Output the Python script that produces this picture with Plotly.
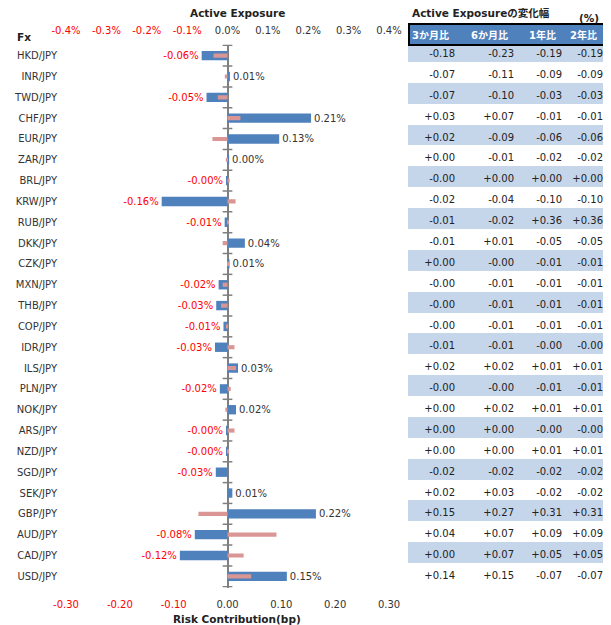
import plotly.graph_objects as go

# ---------------- data ----------------
currencies = ["HKD/JPY", "INR/JPY", "TWD/JPY", "CHF/JPY", "EUR/JPY", "ZAR/JPY", "BRL/JPY",
              "KRW/JPY", "RUB/JPY", "DKK/JPY", "CZK/JPY", "MXN/JPY", "THB/JPY", "COP/JPY",
              "IDR/JPY", "ILS/JPY", "PLN/JPY", "NOK/JPY", "ARS/JPY", "NZD/JPY", "SGD/JPY",
              "SEK/JPY", "GBP/JPY", "AUD/JPY", "CAD/JPY", "USD/JPY"]

# Active Exposure (%), top axis
active_exposure = [-0.064, 0.006, -0.052, 0.207, 0.128, 0.004, -0.002,
                   -0.163, -0.007, 0.043, 0.005, -0.022, -0.028, -0.010,
                   -0.031, 0.026, -0.019, 0.021, -0.003, -0.003, -0.029,
                   0.012, 0.219, -0.081, -0.118, 0.147]

# Risk Contribution (bp), bottom axis
risk_contribution = [-0.026, -0.005, -0.018, 0.024, -0.028, -0.003, 0.004,
                     0.015, 0.002, -0.009, 0.001, -0.009, -0.012, -0.003,
                     0.013, 0.016, 0.006, -0.004, 0.013, 0.003, 0.000,
                     0.000, -0.054, 0.091, 0.030, 0.044]

top_ticks = [-0.4, -0.3, -0.2, -0.1, 0.0, 0.1, 0.2, 0.3, 0.4]
bottom_ticks = [-0.30, -0.20, -0.10, 0.00, 0.10, 0.20, 0.30]

table_headers = ["3か月比", "6か月比", "1年比", "2年比"]
chg_3m = ["-0.18", "-0.07", "-0.07", "+0.03", "+0.02", "+0.00", "-0.00", "-0.02", "-0.01", "-0.01",
          "+0.00", "-0.00", "-0.00", "-0.00", "-0.01", "+0.02", "-0.00", "+0.00", "+0.00", "+0.00",
          "-0.02", "+0.02", "+0.15", "+0.04", "+0.00", "+0.14"]
chg_6m = ["-0.23", "-0.11", "-0.10", "+0.07", "-0.09", "-0.01", "+0.00", "-0.04", "-0.02", "+0.01",
          "-0.00", "-0.01", "-0.01", "-0.01", "-0.01", "+0.02", "-0.00", "+0.02", "+0.00", "+0.00",
          "-0.02", "+0.03", "+0.27", "+0.07", "+0.07", "+0.15"]
chg_1y = ["-0.19", "-0.09", "-0.03", "-0.01", "-0.06", "-0.02", "+0.00", "-0.10", "+0.36", "-0.05",
          "-0.01", "-0.01", "-0.01", "-0.01", "-0.00", "+0.01", "-0.01", "+0.01", "-0.00", "+0.01",
          "-0.02", "-0.02", "+0.31", "+0.09", "+0.05", "-0.07"]
chg_2y = ["-0.19", "-0.09", "-0.03", "-0.01", "-0.06", "-0.02", "+0.00", "-0.10", "+0.36", "-0.05",
          "-0.01", "-0.01", "-0.01", "-0.01", "-0.00", "+0.01", "-0.01", "+0.01", "-0.00", "+0.01",
          "-0.02", "-0.02", "+0.31", "+0.09", "+0.05", "-0.07"]

# ---------------- styling ----------------
BODY = 8                      # default page margin around the figure
W, H = 611 - BODY, 625 - BODY
FONT = "DejaVu Sans, Noto Sans CJK JP, sans-serif"
BLUE = "#4f81bd"
PINK = "#d99694"
RED = "#ff0000"
DARK = "#333333"
AXIS_GREY = "#7f7f7f"
BAND = "#c5d5ea"

# layout positions in screen pixels
plot_left, plot_right = 66, 389
plot_top, plot_bottom = 44.5, 587.5
table_left, table_right = 408, 611
table_rows_top = 46.5
header_top, header_bottom = 24, 45
row_h = (plot_bottom - plot_top) / len(currencies)
col_widths = [55, 59, 48, 41]
hidden_header_h = 21


def px_x(p):
    return (p - BODY) / W


def px_y(p):
    return 1 - (p - BODY) / H


def pct_label(v):
    return "%.2f%%" % v


def colored_tick(v, fmt):
    s = fmt % v
    if v < 0:
        return '<span style="color:%s">%s</span>' % (RED, s)
    return s


fig = go.Figure()

fig.add_trace(go.Bar(
    x=active_exposure, y=currencies, orientation="h",
    xaxis="x", yaxis="y",
    width=0.45,
    marker=dict(color=BLUE, line=dict(width=0)),
    text=[pct_label(v) for v in active_exposure],
    textposition="outside",
    constraintext="none",
    cliponaxis=False,
    textfont=dict(family=FONT, size=10,
                  color=[RED if v < 0 else DARK for v in active_exposure]),
    hoverinfo="skip",
))

fig.add_trace(go.Bar(
    x=risk_contribution, y=currencies, orientation="h",
    xaxis="x2", yaxis="y",
    width=0.2,
    marker=dict(color=PINK, line=dict(width=0)),
    hoverinfo="skip",
))

row_fill = [BAND if i % 2 == 0 else "white" for i in range(len(currencies))]
fig.add_trace(go.Table(
    domain=dict(x=[px_x(table_left), 1.0],
                y=[0.0, px_y(table_rows_top - hidden_header_h)]),
    columnwidth=col_widths,
    header=dict(values=[], height=hidden_header_h, fill_color="white",
                line=dict(color="white", width=0)),
    cells=dict(
        values=[chg_3m, chg_6m, chg_1y, chg_2y],
        fill_color=[row_fill] * 4,
        line=dict(color=[row_fill] * 4, width=1),
        align="right",
        height=row_h,
        font=dict(family=FONT, size=10, color="#222222"),
    ),
))

shapes = []
# tick marks crossing the zero line at category boundaries
for i in range(len(currencies) + 1):
    shapes.append(dict(type="line", xref="x", yref="y",
                       x0=-0.012, x1=0.012, y0=i - 0.5, y1=i - 0.5,
                       line=dict(color=AXIS_GREY, width=1.5)))
# table header box
shapes.append(dict(type="rect", xref="paper", yref="paper",
                   x0=px_x(table_left) + 1 / W, x1=1.0,
                   y0=px_y(header_bottom), y1=px_y(header_top),
                   fillcolor=BLUE, line=dict(color="black", width=2), layer="above"))

annotations = [
    dict(text="<b>Active Exposure</b>", xref="paper", yref="paper",
         x=px_x(237), y=px_y(13), xanchor="center", yanchor="middle",
         showarrow=False, font=dict(family=FONT, size=10.5, color="#222")),
    dict(text="<b>Risk Contribution(bp)</b>", xref="paper", yref="paper",
         x=px_x(237), y=px_y(619), xanchor="center", yanchor="middle",
         showarrow=False, font=dict(family=FONT, size=10.5, color="#222")),
    dict(text="<b>Fx</b>", xref="paper", yref="paper",
         x=px_x(15), y=px_y(37), xanchor="left", yanchor="middle",
         showarrow=False, font=dict(family=FONT, size=10.5, color="#222")),
    dict(text="<b>Active Exposureの変化幅</b>", xref="paper", yref="paper",
         x=px_x(410), y=px_y(13), xanchor="left", yanchor="middle",
         showarrow=False, font=dict(family=FONT, size=10.5, color="#222")),
    dict(text="<b>(%)</b>", xref="paper", yref="paper",
         x=px_x(601), y=px_y(18), xanchor="right", yanchor="middle",
         showarrow=False, font=dict(family=FONT, size=10.5, color="#222")),
]

# header labels placed over the columns
col_right = table_left
for h, cw in zip(table_headers, col_widths):
    col_right += cw * (table_right - table_left) / sum(col_widths)
    annotations.append(dict(
        text="<b>%s</b>" % h, xref="paper", yref="paper",
        x=px_x(col_right - 12), y=px_y((header_top + header_bottom) / 2),
        xanchor="right", yanchor="middle", showarrow=False,
        font=dict(family=FONT, size=10, color="white")))

fig.update_layout(
    width=W, height=H,
    margin=dict(l=0, r=0, t=0, b=0, autoexpand=False),
    paper_bgcolor="white", plot_bgcolor="white",
    showlegend=False,
    barmode="overlay",
    font=dict(family=FONT, size=10, color=DARK),
    xaxis=dict(
        domain=[px_x(plot_left), px_x(plot_right)],
        range=[-0.4, 0.4], side="top", anchor="y",
        tickvals=top_ticks,
        ticktext=[colored_tick(v, "%.1f%%") for v in top_ticks],
        showgrid=False, showline=False,
        ticks="outside", ticklen=6, tickcolor="rgba(0,0,0,0)",
        zeroline=True, zerolinecolor=AXIS_GREY, zerolinewidth=1.5,
        tickfont=dict(family=FONT, size=10, color=DARK),
        automargin=False, fixedrange=True,
    ),
    xaxis2=dict(
        overlaying="x", anchor="y", side="bottom",
        range=[-0.3, 0.3],
        tickvals=bottom_ticks,
        ticktext=[colored_tick(v, "%.2f") for v in bottom_ticks],
        showgrid=False, showline=False,
        ticks="outside", ticklen=7, tickcolor="rgba(0,0,0,0)",
        zeroline=False,
        tickfont=dict(family=FONT, size=10, color=DARK),
        automargin=False, fixedrange=True,
    ),
    yaxis=dict(
        domain=[px_y(plot_bottom), px_y(plot_top)],
        categoryorder="array", categoryarray=currencies,
        autorange="reversed",
        showgrid=False, showline=False, zeroline=False,
        ticks="outside", ticklen=6, tickcolor="rgba(0,0,0,0)",
        tickfont=dict(family=FONT, size=10, color=DARK),
        automargin=False, fixedrange=True,
    ),
    shapes=shapes,
    annotations=annotations,
)

fig.write_html("out.html")
